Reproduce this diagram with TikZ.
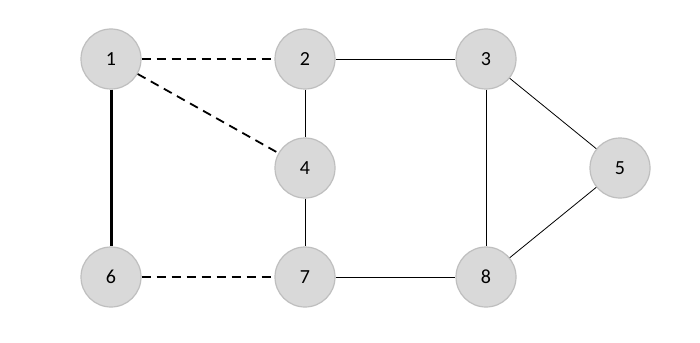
\documentclass[tikz,border=0pt]{standalone}
\usepackage{fontspec}
\setmainfont{Carlito}
\begin{document}
\begin{tikzpicture}[x=1pt,y=-1pt,
  vtx/.style={circle,draw=black!25,line width=1.2pt,fill=black!15,minimum size=60pt,inner sep=0pt,font=\fontsize{20}{20}\selectfont},
  dsh/.style={line width=1.8pt,dash pattern=on 9pt off 6pt},
  thn/.style={line width=0.8pt},
  thk/.style={line width=3pt}]
\useasboundingbox[fill=white] (0,0) rectangle (700,342);
\node[vtx] (n1) at (111,59) {1};
\node[vtx] (n2) at (305,59) {2};
\node[vtx] (n3) at (486,59) {3};
\node[vtx] (n4) at (305,168) {4};
\node[vtx] (n5) at (620,168) {5};
\node[vtx] (n6) at (111,277) {6};
\node[vtx] (n7) at (305,277) {7};
\node[vtx] (n8) at (486,277) {8};
\draw[dsh] (n1) -- (n2);
\draw[dsh] (n1) -- (n4);
\draw[dsh] (n6) -- (n7);
\draw[thk] (n1) -- (n6);
\draw[thn] (n2) -- (n3);
\draw[thn] (n2) -- (n4);
\draw[thn] (n4) -- (n7);
\draw[thn] (n7) -- (n8);
\draw[thn] (n3) -- (n8);
\draw[thn] (n3) -- (n5);
\draw[thn] (n8) -- (n5);
\end{tikzpicture}
\end{document}
